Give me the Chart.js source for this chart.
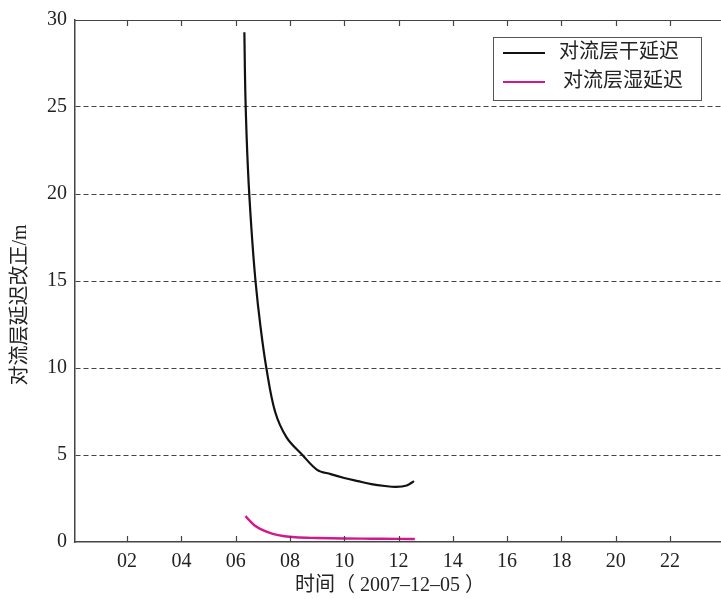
<!doctype html>
<html lang="zh">
  <head>
    <meta charset="utf-8">
    <title>对流层延迟改正</title>
    <style>
      * {
        margin: 0;
        padding: 0;
      }
      body {
        background: white;
      }
      .chartBox {
        width: 721px;
        height: 599px;
      }
    </style>
  </head>
  <body>
    <div class="chartBox">
      <canvas id="myChart" width="721" height="599"></canvas>
    </div>
    <script type="text/javascript" src="https://cdn.jsdelivr.net/npm/chart.js/dist/chart.umd.min.js"></script>
    <script>
    // data (hours of 2007-12-05, metres)
    const dryHours  = [6.32, 6.36, 6.45, 6.58, 6.73, 6.92, 7.13, 7.45, 7.88, 8.46, 9.0, 9.5, 10.0, 10.5, 11.0, 11.5, 11.9, 12.3, 12.57];
    const dryValues = [29.3, 25.5, 21.5, 18.0, 15.0, 12.3, 10.0, 7.5, 6.0, 5.0, 4.15, 3.9, 3.68, 3.5, 3.33, 3.22, 3.17, 3.25, 3.5];

    const wetHours  = [6.36, 6.5, 6.7, 7.0, 7.4, 7.8, 8.2, 9.0, 10.0, 11.0, 12.0, 12.6];
    const wetValues = [1.49, 1.25, 0.95, 0.68, 0.45, 0.33, 0.27, 0.23, 0.2, 0.19, 0.18, 0.17];

    const xTicks = [2, 4, 6, 8, 10, 12, 14, 16, 18, 20, 22];
    const yTicks = [0, 5, 10, 15, 20, 25, 30];

    const seriesNames = ['对流层干延迟', '对流层湿延迟'];
    const seriesColors = ['#111111', '#d4178c'];
    const xTitle = '时间（ 2007–12–05 ）';
    const yTitle = '对流层延迟改正/m';

    const serif = "'Liberation Serif', 'Noto Sans CJK SC', serif";

    const toPoints = (xs, ys) => xs.map((x, i) => ({ x: x, y: ys[i] }));

    // inward tick marks, frame, axis titles and the boxed legend
    const decorations = {
      id: 'decorations',
      afterDraw(chart) {
        const ctx = chart.ctx;
        const area = chart.chartArea;
        const xs = chart.scales.x;
        ctx.save();
        ctx.strokeStyle = '#444';
        ctx.lineWidth = 1.2;
        ctx.beginPath();
        ctx.moveTo(area.left, area.top + 0.5);
        ctx.lineTo(area.right, area.top + 0.5);
        xTicks.forEach((v) => {
          const px = Math.round(xs.getPixelForValue(v)) + 0.5;
          ctx.moveTo(px, area.bottom);
          ctx.lineTo(px, area.bottom - 6);
          ctx.moveTo(px, area.top);
          ctx.lineTo(px, area.top + 6);
        });
        ctx.stroke();

        // axis titles
        ctx.fillStyle = '#222';
        ctx.font = '20px ' + serif;
        ctx.textAlign = 'center';
        ctx.textBaseline = 'middle';
        ctx.fillText(xTitle, 390, 586);
        ctx.save();
        ctx.translate(21, 305);
        ctx.rotate(-Math.PI / 2);
        ctx.fillText(yTitle, 0, 0);
        ctx.restore();

        // legend
        const box = { left: 493, top: 37, width: 208, height: 63 };
        ctx.strokeStyle = '#555';
        ctx.lineWidth = 1;
        ctx.strokeRect(box.left + 0.5, box.top + 0.5, box.width, box.height);
        ctx.textAlign = 'left';
        chart.data.datasets.forEach((ds, i) => {
          const y = box.top + 16 + i * 29;
          ctx.strokeStyle = ds.borderColor;
          ctx.lineWidth = 2.2;
          ctx.beginPath();
          ctx.moveTo(box.left + 10, y);
          ctx.lineTo(box.left + 52, y);
          ctx.stroke();
          ctx.fillStyle = '#222';
          ctx.fillText(ds.label, box.left + 66 + i * 4, y);
        });
        ctx.restore();
      }
    };

    // setup
    const data = {
      datasets: [{
        label: seriesNames[0],
        data: toPoints(dryHours, dryValues),
        borderColor: seriesColors[0],
        borderWidth: 2.2,
        pointRadius: 0,
        tension: 0.35
      }, {
        label: seriesNames[1],
        data: toPoints(wetHours, wetValues),
        borderColor: seriesColors[1],
        borderWidth: 2.4,
        pointRadius: 0,
        cubicInterpolationMode: 'monotone'
      }]
    };

    // config
    const config = {
      type: 'line',
      data,
      options: {
        responsive: false,
        animation: false,
        devicePixelRatio: 1,
        layout: {
          padding: { top: 18, right: 0, left: 0, bottom: 0 }
        },
        plugins: {
          legend: { display: false },
          tooltip: { enabled: false }
        },
        scales: {
          x: {
            type: 'linear',
            min: 0.08,
            max: 23.88,
            afterBuildTicks: (scale) => {
              scale.ticks = xTicks.map((v) => ({ value: v }));
            },
            afterFit: (scale) => {
              scale.height = 57;
            },
            ticks: {
              padding: 8,
              color: '#222',
              font: { family: serif, size: 20 },
              maxRotation: 0,
              callback: (v) => String(v).padStart(2, '0')
            },
            grid: {
              drawOnChartArea: false,
              drawTicks: false
            },
            border: {
              display: true,
              color: '#444',
              width: 1.5
            }
          },
          y: {
            type: 'linear',
            min: 0,
            max: 30,
            afterBuildTicks: (scale) => {
              scale.ticks = yTicks.map((v) => ({ value: v }));
            },
            afterFit: (scale) => {
              scale.width = 75;
            },
            ticks: {
              padding: 8,
              color: '#222',
              font: { family: serif, size: 20 }
            },
            grid: {
              drawTicks: false,
              color: (c) => (c.tick && c.tick.value === 0 ? 'rgba(0,0,0,0)' : '#444'),
              lineWidth: 1
            },
            border: {
              display: true,
              color: '#444',
              width: 1.5,
              dash: [5, 3]
            }
          }
        }
      },
      plugins: [decorations]
    };

    // render init block
    const myChart = new Chart(
      document.getElementById('myChart'),
      config
    );
    </script>
  </body>
</html>
